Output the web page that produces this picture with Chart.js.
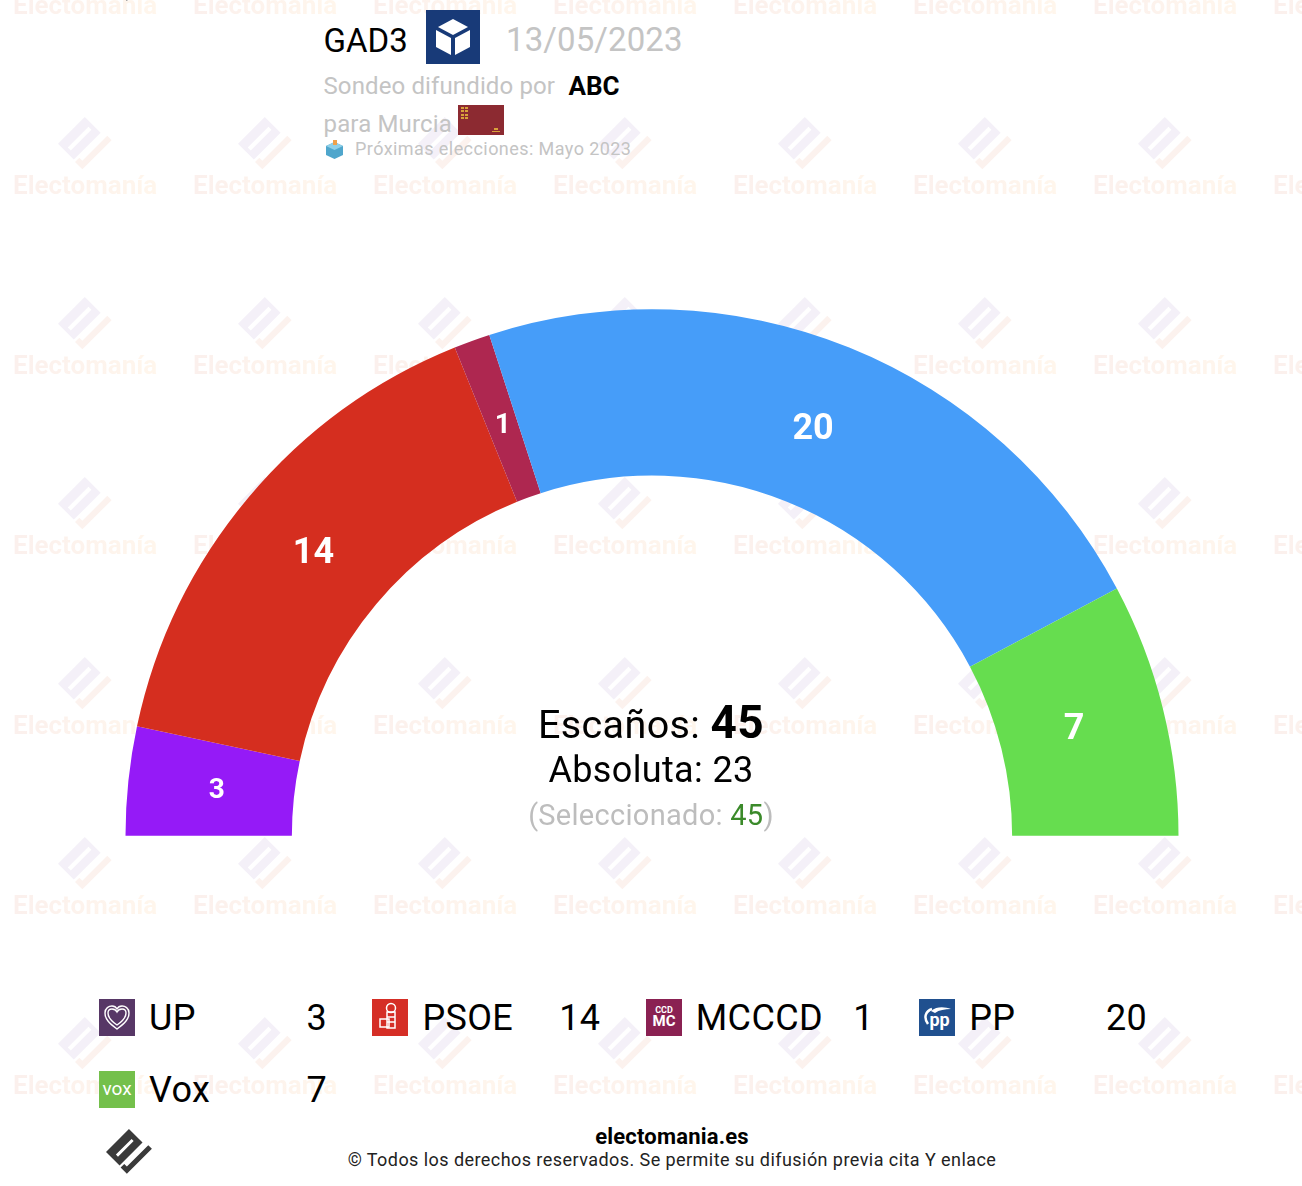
<!DOCTYPE html>
<html lang="es">
<head>
<meta charset="utf-8">
<title>GAD3 Murcia</title>
<script src="https://cdn.jsdelivr.net/npm/chart.js@4"></script>
<style>
html,body{margin:0;padding:0;background:#fff;width:1302px;height:1186px;overflow:hidden;font-family:Roboto,sans-serif;color:#000}
.abs{position:absolute;white-space:nowrap;line-height:1}
#wm{position:absolute;left:0;top:0;width:1302px;height:1186px;overflow:hidden}
.wt{position:absolute;font:700 26px Roboto,sans-serif;line-height:1;background:linear-gradient(90deg,#fbf0ed,#fff6ec);-webkit-background-clip:text;background-clip:text;color:transparent;white-space:nowrap}
.wl{position:absolute;width:56px;height:56px}
#c{position:absolute;left:125px;top:309px}
.ct{position:absolute;left:0;width:1302px;text-align:center;line-height:1;white-space:nowrap;letter-spacing:.01em}
.ic{position:absolute;width:36px;height:37px}
</style>
</head>
<body>
<svg width="0" height="0" style="position:absolute">
  <defs>
    <symbol id="logoMark" viewBox="0 0 46 46">
      <path fill-rule="evenodd" d="M22 0 35 13 13 35 0 22Z M24.500 9.500 9.500 24.500 11.500 26.500 26.500 11.500Z"/>
      <path d="M14 37 20 43 44 19 40.500 15.500 20 36 17.500 33.500Z"/>
    </symbol>
  </defs>
</svg>
<div id="wm"></div>

<div class="abs" style="left:323.500px;top:24px;font-size:33px">GAD3</div>
<svg class="abs" style="left:426px;top:10px" width="54" height="54" viewBox="0 0 54 54">
  <rect width="54" height="54" fill="#183a78"/>
  <path fill="#fff" d="M27 9 42 17 27 25 12 17Z M10 20 25 28 25 45 10 37Z M44 20 29 28 29 45 44 37Z"/>
</svg>
<div class="abs" style="left:506px;top:23px;font-size:33px;letter-spacing:.1px;color:#c4c4c4">13/05/2023</div>
<div class="abs" style="left:323.500px;top:74px;font-size:24px;letter-spacing:.12px;color:#c4c4c4">Sondeo difundido por</div>
<div class="abs" style="left:568.500px;top:73px;font-size:26px;font-weight:700">ABC</div>
<div class="abs" style="left:323.500px;top:112px;font-size:24px;letter-spacing:.15px;color:#c4c4c4">para Murcia</div>
<svg class="abs" style="left:458px;top:105px" width="46" height="30" viewBox="0 0 46 30">
  <rect width="46" height="30" fill="#8c2a31"/>
  <g fill="#d9a13b"><rect x="3" y="2" width="3" height="2"/><rect x="7" y="2" width="3" height="2"/><rect x="3" y="5" width="3" height="2"/><rect x="7" y="5" width="3" height="2"/><rect x="3" y="9" width="3" height="2"/><rect x="7" y="9" width="3" height="2"/><rect x="3" y="12" width="3" height="2"/><rect x="7" y="12" width="3" height="2"/><rect x="34" y="26" width="8" height="1"/><rect x="36" y="23" width="4" height="2"/></g>
</svg>
<svg class="abs" style="left:325px;top:140px" width="19" height="19" viewBox="0 0 19 19">
  <path fill="#4fa6cc" d="M1 6 9.500 2 18 6 18 15 9.500 19 1 15Z"/>
  <path fill="#8fd0e8" d="M1 6 9.500 2 18 6 9.500 10Z"/>
  <rect x="8" y="0" width="4" height="5" fill="#f0a14a"/>
</svg>
<div class="abs" style="left:355px;top:140px;font-size:18px;letter-spacing:.43px;color:#c4c4c4">Próximas elecciones: Mayo 2023</div>

<canvas id="c" width="1054" height="527" style="width:1054px;height:527px"></canvas>

<div class="ct" style="top:699px;font-size:39.5px">Escaños: <b style="font-size:46px">45</b></div>
<div class="ct" style="top:752px;font-size:36px">Absoluta: 23</div>
<div class="ct" style="top:801px;font-size:29px;color:#bdbdbd">(Seleccionado: <span style="color:#3b8a2a">45</span>)</div>

<div id="legend"></div>

<svg class="abs" style="left:106px;top:1129px" width="48" height="48" viewBox="0 0 46 46"><use href="#logoMark" fill="#3a3a3a"/></svg>
<svg class="abs" style="left:106px;top:-44px" width="48" height="48" viewBox="0 0 46 46"><use href="#logoMark" fill="#3a3a3a"/></svg>
<div class="ct" style="left:21px;top:1126px;font-size:22px;font-weight:700;letter-spacing:.2px">electomania.es</div>
<div class="ct" style="left:21px;top:1151px;font-size:18px;letter-spacing:.44px;color:#222">© Todos los derechos reservados. Se permite su difusión previa cita Y enlace</div>

<script>
const partidos = ["UP", "PSOE", "MCCCD", "PP", "Vox"];
const escanos = [3, 14, 1, 20, 7];
const colores = ["#951af7", "#d52e1f", "#ae2750", "#469df9", "#66dd4f"];
const coloresIcono = ["#573766", "#d52e26", "#8a2152", "#20508f", "#74c04b"];

const iconos = {
  UP: '<path fill="none" stroke="#fff" stroke-width="1.400" d="M18 30C10 24 6 20 6 14 6 9 10 7 13 7 15.500 7 17 8 18 10 19 8 20.500 7 23 7 26 7 30 9 30 14 30 20 26 24 18 30Z"/><path fill="none" stroke="#fff" stroke-width="1.400" d="M18 26C12 22 9 18 9 14 9 11 11 10 13 10 15 10 17 11 18 13 19 11 21 10 23 10 25 10 27 11 27 14 27 18 24 22 18 26Z"/>',
  PSOE: '<g fill="none" stroke="#fff" stroke-width="1.500"><circle cx="19" cy="9" r="4.500"/><path d="M15 13h8v16h-8z"/><path d="M8 20h9v8H8z"/><path d="M15 18h8M15 23h8"/></g>',
  MCCCD: '<text x="18" y="14" text-anchor="middle" fill="#fff" font-family="Roboto" font-weight="700" font-size="9">CCD</text><text x="18" y="27" text-anchor="middle" fill="#fff" font-family="Roboto" font-weight="700" font-size="15">MC</text>',
  PP: '<path fill="none" stroke="#fff" stroke-width="2.500" d="M9 25C4 18 7 12 13 10"/><path fill="#fff" d="M12 12C18 7 26 8 32 10 26 10 20 11 16 14Z"/><text x="20.500" y="27" text-anchor="middle" fill="#fff" font-family="Roboto" font-weight="700" font-size="18">pp</text>',
  Vox: '<text x="18" y="24" text-anchor="middle" fill="#fff" font-family="Roboto" font-size="19">vox</text>'
};

const leg = document.getElementById('legend');
partidos.forEach((p, i) => {
  const col = i % 4, row = Math.floor(i / 4);
  const x0 = 99 + col * 273.4, y0 = 999 + row * 71.5;
  leg.insertAdjacentHTML('beforeend',
    `<svg class="ic" style="left:${x0}px;top:${y0}px" viewBox="0 0 36 37"><rect width="36" height="37" fill="${coloresIcono[i]}"/>${iconos[p]}</svg>` +
    `<div class="abs" style="left:${x0 + 50}px;top:${y0 + 1}px;font-size:36px;letter-spacing:.01em">${p}</div>` +
    `<div class="abs" style="left:${x0 + 128}px;width:100px;text-align:right;top:${y0 + 1}px;font-size:36px;letter-spacing:.01em">${escanos[i]}</div>`);
});

const wm = document.getElementById('wm');
for (let r = 0; r < 7; r++) {
  for (let k = 0; k < 8; k++) {
    const lx = 58 + k * 180, ly = -63 + r * 180;
    wm.insertAdjacentHTML('beforeend',
      `<svg class="wl" style="left:${lx}px;top:${ly}px" viewBox="0 0 46 46"><path fill-rule="evenodd" fill="#f4f0f8" d="M22 0 35 13 13 35 0 22Z M25 8 8 25 10.500 27.500 27.500 10.500Z"/><path fill="#fcf2ee" d="M14 37 20 43 44 19 40.500 15.500 20 36 17.500 33.500Z"/></svg>` +
      `<div class="wt" style="left:${13 + k * 180}px;top:${-8 + r * 180}px">Electomanía</div>`);
  }
}

const etiquetas = {
  id: 'etiquetas',
  afterDatasetsDraw(chart) {
    const ctx = chart.ctx, meta = chart.getDatasetMeta(0);
    ctx.save();
    ctx.fillStyle = '#fff';
    ctx.textAlign = 'center';
    ctx.textBaseline = 'middle';
    meta.data.forEach((arc, i) => {
      const v = chart.data.datasets[0].data[i];
      const p = arc.getCenterPoint();
      const small = v < 5;
      ctx.font = `700 ${small ? 28 : 36}px Roboto, sans-serif`;
      const t = 0.988;
      const x = arc.x + (p.x - arc.x) * t + (small ? 0.5 : -3);
      const y = arc.y + (p.y - arc.y) * t + (small ? 1.5 : 0);
      ctx.fillText(String(v), x, y);
    });
    ctx.restore();
  }
};

new Chart(document.getElementById('c'), {
  type: 'doughnut',
  data: { labels: partidos, datasets: [{ data: escanos, backgroundColor: colores, borderWidth: 0 }] },
  options: {
    responsive: false,
    animation: false,
    rotation: -90,
    circumference: 180,
    radius: 526.5,
    cutout: '68.4%',
    layout: { padding: 0 },
    plugins: { legend: { display: false }, tooltip: { enabled: false } }
  },
  plugins: [etiquetas]
});
</script>
</body>
</html>
